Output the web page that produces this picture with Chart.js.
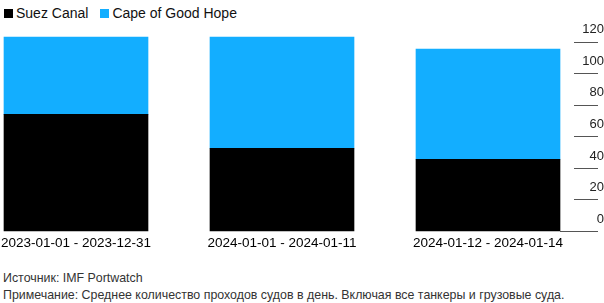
<!DOCTYPE html>
<html>
<head>
<meta charset="utf-8">
<script src="https://cdn.jsdelivr.net/npm/chart.js@4.4.1/dist/chart.umd.min.js"></script>
<style>
	html, body { margin: 0; padding: 0; background: #fff; }
	body { width: 604px; height: 303px; position: relative; overflow: hidden; font-family: 'Liberation Sans', Arial, sans-serif; }
	#legend { position: absolute; left: 4px; top: 4px; height: 18px; display: flex; align-items: center; font-size: 14px; color: #111; }
	#legend .item { display: flex; align-items: center; margin-right: 12px; }
	#legend .box { width: 9px; height: 9px; margin-right: 3px; }
	#chart { position: absolute; left: 0; top: 0; }
	#notes { position: absolute; left: 3px; top: 270px; font-size: 12.4px; line-height: 17px; color: #333; white-space: nowrap; }
</style>
</head>
<body>
<div id="legend"></div>
<canvas id="chart" width="604" height="258"></canvas>
<div id="notes">
	<div>Источник: IMF Portwatch</div>
	<div>Примечание: Среднее количество проходов судов в день. Включая все танкеры и грузовые суда.</div>
</div>
<script>
;(function () {
	'use strict';

	// Data (transits per day)
	var categories = ['2023-01-01 - 2023-12-31', '2024-01-01 - 2024-01-11', '2024-01-12 - 2024-01-14'];
	var seriesNames = ['Suez Canal', 'Cape of Good Hope'];
	var seriesColors = ['#000000', '#13aeff'];
	var suezValues = [74, 52.5, 45.5];
	var capeValues = [49, 70.5, 70];
	var yTicks = [0, 20, 40, 60, 80, 100, 120];

	var legend = document.getElementById('legend');
	seriesNames.forEach(function (name, i) {
		var item = document.createElement('div'),
			box = document.createElement('span'),
			label = document.createElement('span');
		item.className = 'item';
		box.className = 'box';
		box.style.background = seriesColors[i];
		label.textContent = name;
		item.appendChild(box);
		item.appendChild(label);
		legend.appendChild(item);
	});

	// short rules under the y labels, plus the zero rule from the last bar
	var tickRules = {
		id: 'tickRules',
		afterDraw: function (chart) {
			var ctx = chart.ctx,
				yScale = chart.scales.y,
				right = yScale.right - 6,
				meta = chart.getDatasetMeta(0),
				lastBar = meta.data[meta.data.length - 1],
				barRight = lastBar.getProps(['x', 'width'], true);

			ctx.save();
			ctx.strokeStyle = '#555';
			ctx.lineWidth = 1;
			yTicks.forEach(function (v) {
				var y = Math.round(yScale.getPixelForValue(v)) + 0.5,
					left = v === 0 ? barRight.x + barRight.width / 2 : right - 24;
				ctx.beginPath();
				ctx.moveTo(left, y);
				ctx.lineTo(right, y);
				ctx.stroke();
			});
			ctx.restore();
		}
	};

	new Chart(document.getElementById('chart'), {
		type: 'bar',
		data: {
			labels: categories,
			datasets: [
				{ label: seriesNames[0], data: suezValues, backgroundColor: seriesColors[0], barThickness: 144, clip: false },
				{ label: seriesNames[1], data: capeValues, backgroundColor: seriesColors[1], barThickness: 144, clip: false }
			]
		},
		options: {
			responsive: false,
			animation: false,
			layout: { padding: { top: 34, left: 76, right: 0, bottom: 0 } },
			plugins: {
				legend: { display: false },
				tooltip: { enabled: false }
			},
			scales: {
				x: {
					stacked: true,
					offset: false,
					grid: { display: false, drawTicks: false },
					border: { display: false },
					ticks: {
						padding: 4,
						maxRotation: 0,
						autoSkip: false,
						color: '#000',
						font: { family: "'Liberation Sans', Arial, sans-serif", size: 13.5 }
					},
					afterFit: function (scale) {
						scale.height = 27;
						scale.paddingLeft = 0;
						scale.paddingRight = 0;
					}
				},
				y: {
					stacked: true,
					position: 'right',
					min: 0,
					max: 125,
					grid: { display: false, drawTicks: false },
					border: { display: false },
					afterBuildTicks: function (scale) {
						scale.ticks = yTicks.map(function (v) { return { value: v }; });
					},
					afterFit: function (scale) {
						scale.width = 116;
						scale.paddingTop = 0;
						scale.paddingBottom = 0;
					},
					ticks: {
						crossAlign: 'far',
						padding: 88,
						labelOffset: -12,
						color: '#222',
						font: { family: "'Liberation Sans', Arial, sans-serif", size: 13 }
					}
				}
			}
		},
		plugins: [tickRules]
	});
})();
</script>
</body>
</html>
